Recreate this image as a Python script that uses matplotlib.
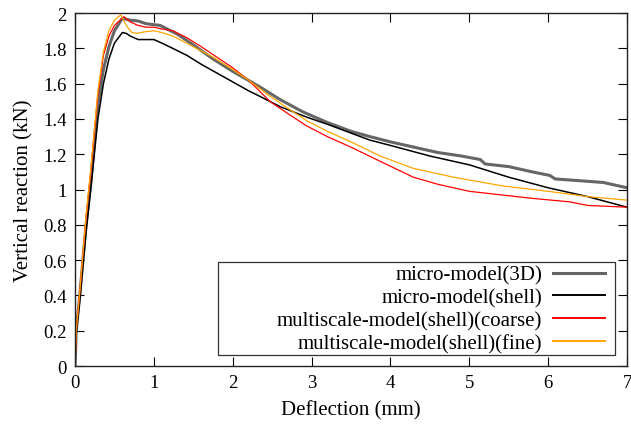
import matplotlib.pyplot as plt
from matplotlib.patches import Rectangle
from matplotlib.ticker import FormatStrFormatter

plt.rcParams["font.family"] = ["Liberation Serif", "DejaVu Serif"]
plt.rcParams["font.size"] = 13

# micro-model (3D)
x_3d = [0, 0.015, 0.06, 0.14, 0.2, 0.29, 0.36, 0.43, 0.5, 0.6, 0.7, 0.8, 0.9, 1.08,
        1.3, 1.5, 1.75, 2.0, 2.35, 2.6, 2.89, 3.2, 3.5, 3.74, 4.0, 4.3, 4.6, 4.9,
        5.14, 5.2, 5.5, 5.8, 6.02, 6.09, 6.4, 6.7, 7.0]
y_3d = [0, 0.2, 0.4, 0.8, 1.05, 1.48, 1.68, 1.81, 1.9, 1.97, 1.96, 1.955, 1.94, 1.93,
        1.88, 1.82, 1.74, 1.67, 1.58, 1.51, 1.44, 1.38, 1.33, 1.30, 1.27, 1.24, 1.21, 1.19,
        1.17, 1.145, 1.13, 1.10, 1.08, 1.06, 1.05, 1.04, 1.01]

# micro-model (shell)
x_shell = [0, 0.015, 0.06, 0.14, 0.2, 0.29, 0.36, 0.43, 0.5, 0.6, 0.65, 0.7, 0.8, 0.9,
           1.0, 1.1, 1.24, 1.42, 1.6, 1.8, 2.0, 2.2, 2.38, 2.6, 2.94, 3.2, 3.5, 3.74,
           4.0, 4.5, 5.0, 5.5, 6.0, 6.5, 7.0]
y_shell = [0, 0.18, 0.37, 0.76, 1.0, 1.40, 1.6, 1.74, 1.83, 1.89, 1.885, 1.87, 1.85, 1.85,
           1.85, 1.83, 1.80, 1.76, 1.71, 1.66, 1.61, 1.56, 1.52, 1.47, 1.41, 1.37, 1.32, 1.28,
           1.25, 1.19, 1.14, 1.07, 1.01, 0.96, 0.90]

# multiscale-model (shell) coarse
x_coarse = [0, 0.015, 0.06, 0.14, 0.2, 0.29, 0.36, 0.43, 0.5, 0.62, 0.7, 0.8, 0.9, 1.0,
            1.1, 1.24, 1.42, 1.6, 1.8, 2.0, 2.2, 2.47, 2.7, 2.94, 3.2, 3.5, 3.87, 4.29,
            4.6, 5.0, 5.4, 5.8, 6.28, 6.5, 7.0]
y_coarse = [0, 0.2, 0.42, 0.84, 1.1, 1.54, 1.76, 1.87, 1.93, 1.98, 1.95, 1.93, 1.92, 1.92,
            1.91, 1.90, 1.86, 1.81, 1.75, 1.69, 1.62, 1.50, 1.43, 1.36, 1.30, 1.24, 1.16, 1.07,
            1.03, 0.99, 0.97, 0.95, 0.93, 0.91, 0.90]

# multiscale-model (shell) fine
x_fine = [0, 0.015, 0.06, 0.14, 0.2, 0.29, 0.36, 0.43, 0.5, 0.58, 0.65, 0.72, 0.78, 0.9,
          1.0, 1.1, 1.24, 1.5, 1.75, 2.0, 2.2, 2.47, 2.7, 2.94, 3.2, 3.5, 3.87, 4.29,
          4.8, 5.43, 6.0, 6.5, 7.0]
y_fine = [0, 0.2, 0.42, 0.85, 1.12, 1.56, 1.78, 1.9, 1.96, 1.99, 1.93, 1.89, 1.885, 1.895,
          1.90, 1.89, 1.87, 1.81, 1.75, 1.68, 1.62, 1.53, 1.46, 1.39, 1.33, 1.27, 1.19, 1.12,
          1.07, 1.02, 0.99, 0.96, 0.94]

fig = plt.figure(figsize=(6.31, 4.27), dpi=100)
ax = fig.add_axes([0.1189, 0.1405, 0.8748, 0.8265])

ax.plot(x_3d, y_3d, color="#666666", lw=2.2, label="micro-model(3D)")
ax.plot(x_shell, y_shell, color="black", lw=1.1, label="micro-model(shell)")
ax.plot(x_coarse, y_coarse, color="#ff0000", lw=0.9, label="multiscale-model(shell)(coarse)")
ax.plot(x_fine, y_fine, color="#ffa500", lw=0.9, label="multiscale-model(shell)(fine)")

ax.set_xlim(0, 7)
ax.set_ylim(0, 2)
ax.set_xticks(range(0, 8))
ax.set_yticks([i * 0.2 for i in range(11)])
ax.yaxis.set_major_formatter(FormatStrFormatter("%g"))
ax.tick_params(direction="in", length=6.5, width=0.8, top=True, right=True, pad=6,
               labelsize=13.5)
for s in ax.spines.values():
    s.set_linewidth(1.0)
    s.set_color("#222222")

ax.set_xlabel("Deflection (mm)", labelpad=6, fontsize=15)
ax.set_ylabel("Vertical reaction (kN)", labelpad=7, fontsize=15)

# gnuplot-style key: wide box, labels right-aligned, samples on the right
ax.add_patch(Rectangle((0.259, 0.031), 0.719, 0.264, transform=ax.transAxes,
                       facecolor="white", edgecolor="#333333", lw=0.9, zorder=4))
leg = ax.legend(loc="center right", bbox_to_anchor=(0.960, 0.161), markerfirst=False,
                frameon=False, handlelength=2.5, labelspacing=0.15, borderpad=0,
                handletextpad=0.5, borderaxespad=0, prop={"size": 15})
leg.set_zorder(5)
for h in leg.legend_handles:
    h.set_linewidth(max(h.get_linewidth(), 1.4))

fig.savefig("out.png", dpi=100)
